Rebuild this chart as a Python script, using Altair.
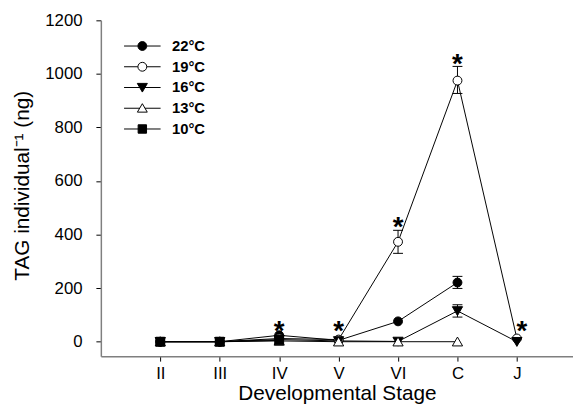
import altair as alt
import pandas as pd

stages = ["II", "III", "IV", "V", "VI", "C", "J"]
series = ["22°C", "19°C", "16°C", "13°C", "10°C"]

tag_22 = [0, 0, 24, 5, 76, 221, None]
tag_19 = [0, 0, 12, 8, 373, 975, 12]
tag_16 = [0, 0, 8, 3, 1, 115, 0]
tag_13 = [0, 0, 3, 0, 0, 0, None]
tag_10 = [0, 0, 5, None, None, None, None]

err_series = ["19°C", "19°C", "22°C", "16°C"]
err_stage = ["VI", "C", "C", "C"]
err_low = [330, 927, 199, 92]
err_high = [416, 1028, 244, 138]

star_stage = ["IV", "V", "VI", "C"]
star_y = [60, 60, 449, 1058]
star_stage_j = ["J"]
star_y_j = [60]

y_ticks = [0, 200, 400, 600, 800, 1000, 1200]

fills = ["black", "white", "black", "white", "black"]
strokes = ["black", "black", "black", "black", "black"]
point_shapes = [
    "circle",
    "circle",
    "M-1.15,-0.95L1.15,-0.95L0,1.05Z",
    "M0,-1.05L1.15,0.95L-1.15,0.95Z",
    "square",
]
legend_shapes = [
    "M-4,0H-0.97M0.97,0H4M-0.97,0A0.97,0.97,0,1,1,0.97,0A0.97,0.97,0,1,1,-0.97,0Z",
    "M-4,0H-0.97M0.97,0H4M-0.97,0A0.97,0.97,0,1,1,0.97,0A0.97,0.97,0,1,1,-0.97,0Z",
    "M-4,0H4M-1.1,-0.9L1.1,-0.9L0,1.0Z",
    "M-4,0H-0.58M0.58,0H4M0,-1L1.08,0.85L-1.08,0.85Z",
    "M-4,0H4M-0.92,-0.92H0.92V0.92H-0.92Z",
]

all_vals = [tag_22, tag_19, tag_16, tag_13, tag_10]
rows = []
for s, vals in zip(series, all_vals):
    for i, (st, v) in enumerate(zip(stages, vals)):
        if v is not None:
            rows.append({"series": s, "stage": st, "idx": i, "tag": v})
df = pd.DataFrame(rows)

err_df = pd.DataFrame({"series": err_series, "stage": err_stage, "low": err_low, "high": err_high})
star_df = pd.DataFrame({"stage": star_stage, "y": star_y})
star_j_df = pd.DataFrame({"stage": star_stage_j, "y": star_y_j})

FONT = "Liberation Sans"

x_enc = alt.X(
    "stage:O",
    sort=stages,
    scale=alt.Scale(type="point", domain=stages, padding=0.972, align=0.5145),
    axis=alt.Axis(
        title="Developmental Stage",
        labelAngle=0,
        labelFontSize=17,
        labelPadding=5,
        titleFontSize=21,
        titleFontWeight="normal",
        titleY=44,
        titleBaseline="alphabetic",
        tickSize=5,
        tickColor="black",
        domainColor="#7f7f7f",
        domainWidth=1.5,
        labelColor="black",
        titleColor="black",
        grid=False,
    ),
)
y_scale = alt.Scale(domain=[-54, 1200], nice=False, zero=False)
y_axis = alt.Axis(
    title="TAG individual⁻¹  (ng)",
    values=y_ticks,
    format="d",
    labelFontSize=17,
    labelPadding=14,
    titleFontSize=21,
    titleFontWeight="normal",
    titleX=-79,
    titleY=167,
    titleAlign="center",
    titleBaseline="middle",
    tickSize=5,
    tickColor="black",
    domainColor="#7f7f7f",
    domainWidth=1.5,
    labelColor="black",
    titleColor="black",
    grid=False,
)

base = alt.Chart(df)

lines = base.mark_line(color="black", strokeWidth=1).encode(
    x=x_enc,
    y=alt.Y("tag:Q", scale=y_scale, axis=y_axis),
    detail="series:N",
    order=alt.Order("idx:Q"),
)

points = base.mark_point(stroke="black", strokeWidth=1, size=81, opacity=1).encode(
    x=x_enc,
    y=alt.Y("tag:Q", scale=y_scale),
    shape=alt.Shape("series:N", scale=alt.Scale(domain=series, range=point_shapes), legend=None),
    fill=alt.Fill("series:N", scale=alt.Scale(domain=series, range=fills), legend=None),
)

err_rule = alt.Chart(err_df).mark_rule(color="black", strokeWidth=1).encode(
    x=x_enc,
    y=alt.Y("low:Q", scale=y_scale),
    y2="high:Q",
)
cap_low = alt.Chart(err_df).mark_tick(orient="horizontal", size=10, thickness=1, color="black", opacity=1).encode(
    x=x_enc, y=alt.Y("low:Q", scale=y_scale)
)
cap_high = alt.Chart(err_df).mark_tick(orient="horizontal", size=10, thickness=1, color="black", opacity=1).encode(
    x=x_enc, y=alt.Y("high:Q", scale=y_scale)
)

stars = alt.Chart(star_df).mark_text(
    text="*", font=FONT, fontSize=28, fontWeight="bold", baseline="middle", dy=7, color="black"
).encode(x=x_enc, y=alt.Y("y:Q", scale=y_scale))
stars_j = alt.Chart(star_j_df).mark_text(
    text="*", font=FONT, fontSize=28, fontWeight="bold", baseline="middle", dy=7, dx=5, color="black"
).encode(x=x_enc, y=alt.Y("y:Q", scale=y_scale))

leg = alt.Legend(
    title=None,
    orient="none",
    legendX=34.5,
    legendY=18.5,
    padding=0,
    labelFont=FONT,
    labelFontSize=15,
    labelFontWeight="bold",
    labelColor="black",
    labelOffset=22.5,
    rowPadding=5,
    symbolSize=85.56,
    symbolStrokeColor="black",
    symbolStrokeWidth=1,
    symbolOpacity=1,
)
legend_layer = alt.Chart(df).transform_filter("false").mark_point(
    strokeWidth=1, opacity=1
).encode(
    shape=alt.Shape("series:N", scale=alt.Scale(domain=series, range=legend_shapes), legend=leg),
    fill=alt.Fill("series:N", scale=alt.Scale(domain=series, range=fills), legend=leg),
    stroke=alt.Stroke("series:N", scale=alt.Scale(domain=series, range=strokes), legend=leg),
)

chart = (
    alt.layer(err_rule, cap_low, cap_high, lines, points, stars, stars_j, legend_layer)
    .resolve_scale(shape="independent", fill="independent", stroke="independent")
    .properties(
        width=478,
        height=340,
        autosize=alt.AutoSizeParams(type="none"),
        padding={"left": 94, "top": 10, "right": 0, "bottom": 52},
    )
    .configure_view(stroke=None)
    .configure_axis(labelFont=FONT, titleFont=FONT)
    .configure_text(font=FONT)
)

chart.save("out.html", embed_options={"renderer": "svg", "actions": False})
